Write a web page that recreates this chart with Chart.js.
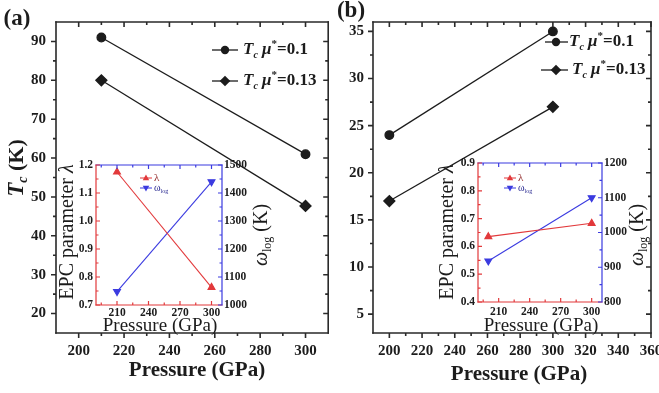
<!DOCTYPE html>
<html lang="en">
<head>
<meta charset="UTF-8">
<title>Tc vs pressure</title>
<script src="https://cdn.jsdelivr.net/npm/chart.js"></script>
<style>
  body { margin: 0; background: #fff; }
  #wrap { position: relative; width: 659px; height: 393px; overflow: hidden; background: #fff; }
  canvas { position: absolute; }
</style>
</head>
<body>
<div id="wrap">
  <canvas id="mainA" width="335" height="393" style="left:0;top:0"></canvas>
  <canvas id="mainB" width="324" height="393" style="left:335px;top:0"></canvas>
  <canvas id="insetA" width="225" height="190" style="left:55px;top:150px"></canvas>
  <canvas id="insetB" width="234" height="190" style="left:425px;top:150px"></canvas>
</div>
<script>
// panel (a): Tc against pressure
const pressureA = [210, 300];
const tcMu010A = [91, 61];
const tcMu013A = [80, 47.7];
// panel (b)
const pressureB = [200, 300];
const tcMu010B = [24, 35];
const tcMu013B = [17, 27];
// insets: EPC parameter lambda and omega_log
const insetPressureA = [210, 300];
const lambdaA = [1.175, 0.763];
const omegaLogA = [1048, 1440];
const insetPressureB = [200, 300];
const lambdaB = [0.635, 0.683];
const omegaLogB = [918, 1100];

// tick labels
const xTicksA = [200, 220, 240, 260, 280, 300];
const yTicksA = [20, 30, 40, 50, 60, 70, 80, 90];
const xTicksB = [200, 220, 240, 260, 280, 300, 320, 340, 360];
const yTicksB = [5, 10, 15, 20, 25, 30, 35];
const insetXTicks = [210, 240, 270, 300];
const lambdaTicksA = [0.7, 0.8, 0.9, 1.0, 1.1, 1.2];
const omegaTicksA = [1000, 1100, 1200, 1300, 1400, 1500];
const lambdaTicksB = [0.4, 0.5, 0.6, 0.7, 0.8, 0.9];
const omegaTicksB = [800, 900, 1000, 1100, 1200];

const ink = '#1c1c1c';
const red = '#e2393b';
const blue = '#3b3be0';
const serif = "'Liberation Serif', 'Times New Roman', serif";
Chart.defaults.font.family = serif;

function range(a, b, step) {
  const r = [];
  for (let v = a; v <= b + 1e-9; v += step) r.push(+v.toFixed(4));
  return r;
}
function fixedTicks(values) {
  return scale => { scale.ticks = values.map(v => ({ value: v })); };
}
function fitW(w) {
  return s => { s.width = w; s.paddingTop = 0; s.paddingBottom = 0; };
}
function fitH(h) {
  return s => { s.height = h; s.paddingLeft = 0; s.paddingRight = 0; };
}

function drawMark(ctx, style, x, y, r, color) {
  ctx.fillStyle = color;
  ctx.beginPath();
  if (style === 'circle') ctx.arc(x, y, r, 0, Math.PI * 2);
  else if (style === 'diamond') {
    ctx.moveTo(x - r, y); ctx.lineTo(x, y - r); ctx.lineTo(x + r, y); ctx.lineTo(x, y + r);
  } else if (style === 'up') {
    ctx.moveTo(x, y - r); ctx.lineTo(x + r * 0.9, y + r * 0.6); ctx.lineTo(x - r * 0.9, y + r * 0.6);
  } else {
    ctx.moveTo(x, y + r); ctx.lineTo(x + r * 0.9, y - r * 0.6); ctx.lineTo(x - r * 0.9, y - r * 0.6);
  }
  ctx.closePath();
  ctx.fill();
}

// frames, ticks, titles and legends per canvas
const frames = {};
const notes = {};

const framePlugin = {
  id: 'frame',
  afterDraw(chart) {
    const f = frames[chart.canvas.id];
    if (!f) return;
    const ctx = chart.ctx, a = chart.chartArea;
    ctx.save();
    ctx.lineWidth = f.width;
    f.sides.forEach(s => {
      const sc = chart.scales[s.scale];
      const horiz = s.pos === 'top' || s.pos === 'bottom';
      const edge = a[s.pos];
      const sign = (s.pos === 'bottom' || s.pos === 'right') ? 1 : -1;
      const dir = s.out ? sign : -sign;
      ctx.strokeStyle = s.color;
      ctx.beginPath();
      if (horiz) { ctx.moveTo(a.left - f.width / 2, edge); ctx.lineTo(a.right + f.width / 2, edge); }
      else { ctx.moveTo(edge, a.top - f.width / 2); ctx.lineTo(edge, a.bottom + f.width / 2); }
      const mark = (v, len) => {
        const p = sc.getPixelForValue(v);
        if (horiz) { ctx.moveTo(p, edge); ctx.lineTo(p, edge + dir * len); }
        else { ctx.moveTo(edge, p); ctx.lineTo(edge + dir * len, p); }
      };
      s.major.forEach(v => mark(v, f.major));
      s.minor.forEach(v => mark(v, f.minor));
      ctx.stroke();
    });
    ctx.restore();
  }
};

const notesPlugin = {
  id: 'notes',
  afterDraw(chart) {
    const n = notes[chart.canvas.id];
    if (!n) return;
    const ctx = chart.ctx;
    (n.keys || []).forEach(k => {
      ctx.save();
      ctx.strokeStyle = k.color;
      ctx.lineWidth = k.lw;
      ctx.beginPath();
      ctx.moveTo(k.x1 - n.ox, k.y - n.oy);
      ctx.lineTo(k.x2 - n.ox, k.y - n.oy);
      ctx.stroke();
      drawMark(ctx, k.style, k.mx - n.ox, k.y - n.oy, k.r, k.color);
      ctx.restore();
    });
    (n.items || []).forEach(it => {
      ctx.save();
      ctx.translate(it.x - n.ox, it.y - n.oy);
      if (it.rot) ctx.rotate(it.rot);
      ctx.textBaseline = 'middle';
      ctx.textAlign = 'left';
      let w = 0;
      it.parts.forEach(p => { ctx.font = p[1]; w += ctx.measureText(p[0]).width; });
      let x = it.align === 'left' ? 0 : -w / 2;
      it.parts.forEach(p => {
        ctx.font = p[1];
        ctx.fillStyle = it.color || ink;
        ctx.fillText(p[0], x, p[2] || 0);
        x += ctx.measureText(p[0]).width;
      });
      ctx.restore();
    });
  }
};
Chart.register(framePlugin, notesPlugin);

function pts(xs, ys) { return xs.map((x, i) => ({ x: x, y: ys[i] })); }

function mainChart(id, o) {
  const tickFont = { family: serif, size: 15, weight: 'bold' };
  return new Chart(document.getElementById(id), {
    type: 'scatter',
    data: {
      datasets: [
        { data: pts(o.xs, o.s1), showLine: true, borderColor: ink, borderWidth: 1.3,
          pointStyle: 'circle', pointRadius: 4.3, pointBackgroundColor: ink, pointBorderColor: ink },
        { data: pts(o.xs, o.s2), showLine: true, borderColor: ink, borderWidth: 1.3,
          pointStyle: 'rectRot', pointRadius: 5.5, pointBackgroundColor: ink, pointBorderColor: ink }
      ]
    },
    options: {
      responsive: false, animation: false,
      layout: { padding: { top: 22, right: o.padRight, left: 0, bottom: 0 } },
      plugins: { legend: { display: false }, tooltip: { enabled: false } },
      scales: {
        x: { type: 'linear', min: o.xMin, max: o.xMax,
             afterBuildTicks: fixedTicks(o.xTicks), afterFit: fitH(60),
             grid: { display: false, drawTicks: false }, border: { display: false },
             ticks: { font: tickFont, color: ink, padding: 9, maxRotation: 0, autoSkip: false,
                      callback: v => String(v) } },
        y: { type: 'linear', min: o.yMin, max: o.yMax,
             afterBuildTicks: fixedTicks(o.yTicks), afterFit: fitW(o.yW),
             grid: { display: false, drawTicks: false }, border: { display: false },
             ticks: { font: tickFont, color: ink, padding: o.yPad, autoSkip: false,
                      callback: v => String(v) } }
      }
    }
  });
}

function insetChart(id, o) {
  const tickFont = { family: serif, size: 11.5, weight: 'bold' };
  const common = { grid: { display: false, drawTicks: false }, border: { display: false } };
  return new Chart(document.getElementById(id), {
    type: 'scatter',
    data: {
      datasets: [
        { data: pts(o.xs, o.lambda), yAxisID: 'y', showLine: true, borderColor: red, borderWidth: 1.1,
          pointStyle: 'triangle', pointRadius: 4, pointBackgroundColor: red, pointBorderColor: red },
        { data: pts(o.xs, o.omega), yAxisID: 'y2', showLine: true, borderColor: blue, borderWidth: 1.1,
          pointStyle: 'triangle', rotation: 180, pointRadius: 4, pointBackgroundColor: blue, pointBorderColor: blue }
      ]
    },
    options: {
      responsive: false, animation: false,
      layout: { padding: { top: o.padTop, right: 0, left: 0, bottom: 0 } },
      plugins: { legend: { display: false }, tooltip: { enabled: false } },
      scales: {
        x: Object.assign({ type: 'linear', min: 190, max: 310,
             afterBuildTicks: fixedTicks(insetXTicks), afterFit: fitH(o.xH),
             ticks: { font: tickFont, color: ink, padding: o.xPad, maxRotation: 0, autoSkip: false,
                      callback: v => String(v) } }, common),
        y: Object.assign({ type: 'linear', position: 'left', min: o.lMin, max: o.lMax,
             afterBuildTicks: fixedTicks(o.lTicks), afterFit: fitW(o.lW),
             ticks: { font: tickFont, color: ink, padding: 3, autoSkip: false,
                      callback: v => v.toFixed(1) } }, common),
        y2: Object.assign({ type: 'linear', position: 'right', min: o.rMin, max: o.rMax,
             afterBuildTicks: fixedTicks(o.rTicks), afterFit: fitW(o.rW),
             ticks: { font: tickFont, color: ink, padding: 2, autoSkip: false,
                      callback: v => String(v) } }, common)
      }
    }
  });
}

// ---------- frames ----------
const mainFrame = (xMaj, xMin, yMaj, yMin) => ({
  width: 1.6, major: 5, minor: 3,
  sides: [
    { pos: 'bottom', scale: 'x', color: '#2a2a2a', major: xMaj, minor: xMin, out: true },
    { pos: 'top', scale: 'x', color: '#2a2a2a', major: xMaj, minor: xMin, out: false },
    { pos: 'left', scale: 'y', color: '#2a2a2a', major: yMaj, minor: yMin, out: true },
    { pos: 'right', scale: 'y', color: '#2a2a2a', major: yMaj, minor: yMin, out: false }
  ]
});
frames.mainA = mainFrame(xTicksA, range(210, 290, 20), yTicksA, range(25, 85, 10));
frames.mainB = mainFrame(xTicksB, range(210, 350, 20), yTicksB, range(7.5, 32.5, 5));

const insetFrame = (lMaj, lMin, rMaj, rMin) => ({
  width: 1.2, major: 4, minor: 2.5,
  sides: [
    { pos: 'bottom', scale: 'x', color: red, major: insetXTicks, minor: [195, 225, 255, 285], out: false },
    { pos: 'top', scale: 'x', color: blue, major: insetXTicks, minor: [195, 225, 255, 285], out: false },
    { pos: 'left', scale: 'y', color: red, major: lMaj, minor: lMin, out: false },
    { pos: 'right', scale: 'y2', color: blue, major: rMaj, minor: rMin, out: false }
  ]
});
frames.insetA = insetFrame(lambdaTicksA, range(0.75, 1.15, 0.1), omegaTicksA, range(1050, 1450, 100));
frames.insetB = insetFrame(lambdaTicksB, range(0.45, 0.85, 0.1), omegaTicksB, range(850, 1150, 100));

// ---------- text ----------
const B = s => 'bold ' + s + 'px ' + serif;
const BI = s => 'italic bold ' + s + 'px ' + serif;
const R = s => s + 'px ' + serif;
const I = s => 'italic ' + s + 'px ' + serif;
const up = -Math.PI / 2;
const tcLabel = mu => [['T', BI(17)], ['c', BI(10), 5], [' ', B(17)], ['\u03bc', BI(17)], ['*', B(11), -6], ['=' + mu, B(17)]];

notes.mainA = {
  ox: 0, oy: 0,
  keys: [
    { x1: 212, x2: 238, y: 50, mx: 225, style: 'circle', r: 4.2, color: ink, lw: 1.3 },
    { x1: 212, x2: 238, y: 81, mx: 225, style: 'diamond', r: 5.3, color: ink, lw: 1.3 }
  ],
  items: [
    { x: 17, y: 19, parts: [['(a)', B(23)]] },
    { x: 17, y: 168, rot: up, parts: [['T', BI(23)], ['c', BI(14), 6], [' (K)', B(22)]] },
    { x: 197, y: 371, parts: [['Pressure (GPa)', B(21)]] },
    { x: 243, y: 50, align: 'left', parts: tcLabel('0.1') },
    { x: 243, y: 81, align: 'left', parts: tcLabel('0.13') }
  ]
};
notes.mainB = {
  ox: 335, oy: 0,
  keys: [
    { x1: 545, x2: 568, y: 42, mx: 556, style: 'circle', r: 4.2, color: ink, lw: 1.3 },
    { x1: 541, x2: 568, y: 70, mx: 556, style: 'diamond', r: 5.3, color: ink, lw: 1.3 }
  ],
  items: [
    { x: 351, y: 11, parts: [['(b)', B(23)]] },
    { x: 519, y: 375, parts: [['Pressure (GPa)', B(21)]] },
    { x: 569, y: 42, align: 'left', parts: tcLabel('0.1') },
    { x: 572, y: 70, align: 'left', parts: tcLabel('0.13') }
  ]
};
const insetText = (ox, lx, rx, px, kx) => ({
  ox: ox, oy: 150,
  keys: [
    { x1: kx, x2: kx + 12, y: 178, mx: kx + 6, style: 'up', r: 3.6, color: red, lw: 1 },
    { x1: kx, x2: kx + 12, y: 188, mx: kx + 6, style: 'down', r: 3.6, color: blue, lw: 1 }
  ],
  items: [
    { x: lx, y: 232, rot: up, parts: [['EPC parameter ', R(20)], ['\u03bb', I(20)]] },
    { x: rx, y: 235, rot: up, parts: [['\u03c9', I(20)], ['log', R(12), 6], [' (K)', R(20)]] },
    { x: px, y: 326, parts: [['Pressure (GPa)', R(19)]] },
    { x: kx + 14, y: 178, align: 'left', color: '#8a1d1d', parts: [['\u03bb', R(11)]] },
    { x: kx + 14, y: 188, align: 'left', color: '#1d1d8a', parts: [['\u03c9', R(10)], ['log', R(6), 3]] }
  ]
});
notes.insetA = insetText(55, 68, 262, 160, 140);
notes.insetB = insetText(425, 448, 638, 541, 504);

// ---------- charts ----------
mainChart('mainA', { xs: pressureA, s1: tcMu010A, s2: tcMu013A, xMin: 190, xMax: 310, xTicks: xTicksA,
  yMin: 15, yMax: 95, yTicks: yTicksA, yW: 56, yPad: 10, padRight: 2 });
mainChart('mainB', { xs: pressureB, s1: tcMu010B, s2: tcMu013B, xMin: 190, xMax: 360, xTicks: xTicksB,
  yMin: 3, yMax: 36, yTicks: yTicksB, yW: 38, yPad: 9, padRight: 8 });
insetChart('insetA', { xs: insetPressureA, lambda: lambdaA, omega: omegaLogA,
  lMin: 0.7, lMax: 1.2, lTicks: lambdaTicksA, rMin: 1000, rMax: 1500, rTicks: omegaTicksA,
  lW: 41, rW: 58, padTop: 15, xH: 35, xPad: 1 });
insetChart('insetB', { xs: insetPressureB, lambda: lambdaB, omega: omegaLogB,
  lMin: 0.4, lMax: 0.9, lTicks: lambdaTicksB, rMin: 800, rMax: 1200, rTicks: omegaTicksB,
  lW: 53, rW: 57, padTop: 13, xH: 38, xPad: 3 });
</script>
</body>
</html>
